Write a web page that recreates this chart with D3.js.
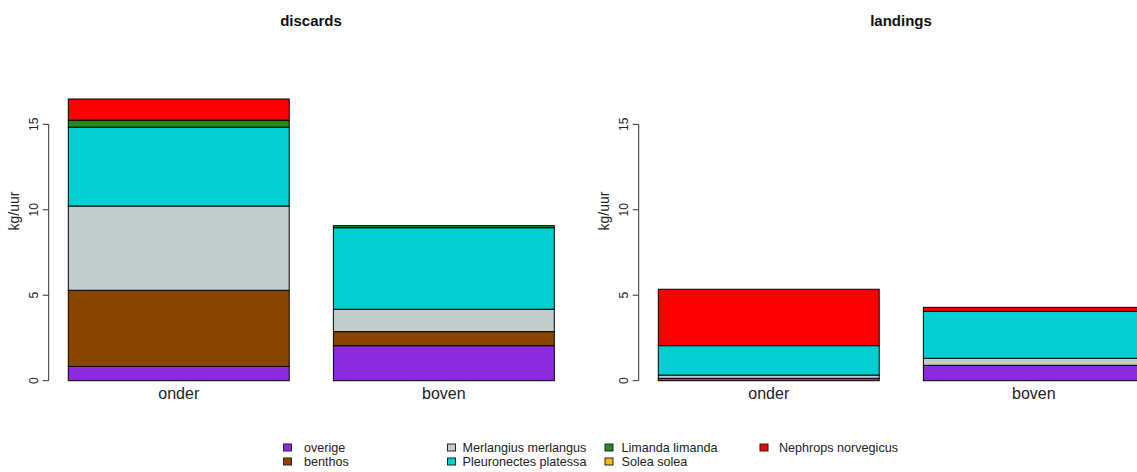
<!DOCTYPE html>
<html>
<head>
<meta charset="utf-8">
<script src="https://cdn.jsdelivr.net/npm/d3@7/dist/d3.min.js"></script>
<style>
  html, body { margin: 0; padding: 0; background: #fff; }
  svg { display: block; font-family: "Liberation Sans", Arial, sans-serif; }
</style>
</head>
<body>
<svg id="chart" width="1137" height="472"></svg>
<script>
// Catch per hour by trawl position (onder / boven), stacked by species group
const categories = ["onder", "boven"];
const species = ["overige", "benthos", "Merlangius merlangus", "Pleuronectes platessa",
                 "Limanda limanda", "Solea solea", "Nephrops norvegicus"];
const speciesColors = ["#8A2BE2", "#8B4500", "#C1CDCD", "#00CED1", "#228B22", "#FFB90F", "#FF0000"];

// discards, kg/uur, one value per category
const discOverige    = [0.84, 2.05];
const discBenthos    = [4.45, 0.82];
const discMerlangius = [4.93, 1.31];
const discPlatessa   = [4.61, 4.77];
const discLimanda    = [0.41, 0.12];
const discSolea      = [0.00, 0.00];
const discNephrops   = [1.24, 0.00];

// landings, kg/uur
const landOverige    = [0.14, 0.90];
const landBenthos    = [0.00, 0.00];
const landMerlangius = [0.19, 0.41];
const landPlatessa   = [1.72, 2.75];
const landLimanda    = [0.00, 0.00];
const landSolea      = [0.00, 0.00];
const landNephrops   = [3.30, 0.23];

const yTicks = [0, 5, 10, 15];

function toRows(series) {
  return categories.map((c, i) => {
    const row = { cat: c };
    species.forEach((s, k) => { row[s] = series[k][i]; });
    return row;
  });
}

const panels = [
  { title: "discards", offset: 0,
    rows: toRows([discOverige, discBenthos, discMerlangius, discPlatessa, discLimanda, discSolea, discNephrops]) },
  { title: "landings", offset: 590,
    rows: toRows([landOverige, landBenthos, landMerlangius, landPlatessa, landLimanda, landSolea, landNephrops]) }
];

const svg = d3.select("#chart");
const color = d3.scaleOrdinal().domain(species).range(speciesColors);
const y = d3.scaleLinear().domain([0, 15]).range([380.7, 124.3]);

panels.forEach(p => {
  const g = svg.append("g").attr("transform", `translate(${p.offset},0)`);
  const x = d3.scaleBand().domain(categories).range([68.3, 554.3])
    .paddingInner(1 / 6).paddingOuter(0);

  const stacked = d3.stack().keys(species)(p.rows);

  g.append("g").selectAll("g")
    .data(stacked)
    .join("g")
      .attr("fill", d => color(d.key))
    .selectAll("rect")
    .data(d => d.filter(s => s[1] - s[0] > 0))
    .join("rect")
      .attr("x", d => x(d.data.cat))
      .attr("width", x.bandwidth())
      .attr("y", d => y(d[1]))
      .attr("height", d => y(d[0]) - y(d[1]))
      .attr("stroke", "#000")
      .attr("stroke-width", 1);

  // y axis, R style: line spans first to last tick, labels parallel to the axis
  const ax = g.append("g").attr("transform", "translate(48.7,0)");
  ax.append("line")
    .attr("x1", 0).attr("x2", 0)
    .attr("y1", y(yTicks[0])).attr("y2", y(yTicks[yTicks.length - 1]))
    .attr("stroke", "#333").attr("stroke-width", 1);
  ax.selectAll("line.tick")
    .data(yTicks)
    .join("line")
      .attr("class", "tick")
      .attr("x1", -6).attr("x2", 0)
      .attr("y1", d => y(d)).attr("y2", d => y(d))
      .attr("stroke", "#333").attr("stroke-width", 1);
  ax.selectAll("text")
    .data(yTicks)
    .join("text")
      .attr("transform", d => `translate(-10.5,${y(d)}) rotate(-90)`)
      .attr("text-anchor", "middle")
      .attr("font-size", 12)
      .attr("fill", "#222")
      .text(d => d);

  g.append("text")
    .attr("transform", "translate(19,211) rotate(-90)")
    .attr("text-anchor", "middle")
    .attr("font-size", 14)
    .attr("fill", "#222")
    .text("kg/uur");

  // category labels
  g.selectAll("text.cat")
    .data(categories)
    .join("text")
      .attr("class", "cat")
      .attr("x", d => x(d) + x.bandwidth() / 2)
      .attr("y", 398.5)
      .attr("text-anchor", "middle")
      .attr("font-size", 16)
      .attr("fill", "#222")
      .text(d => d);

  g.append("text")
    .attr("x", 311)
    .attr("y", 26)
    .attr("text-anchor", "middle")
    .attr("font-size", 15)
    .attr("font-weight", "bold")
    .attr("fill", "#111")
    .text(p.title);
});

// legend: 4 columns x 2 rows, filled column by column
const legendBoxX = [283.5, 447.5, 605, 760];
const legendTextX = [304, 462.5, 621.5, 779];
const legendRowY = [447.5, 461.5];
const legend = svg.append("g");
species.forEach((s, i) => {
  const col = Math.floor(i / 2), row = i % 2;
  legend.append("rect")
    .attr("x", legendBoxX[col])
    .attr("y", legendRowY[row] - 3.5)
    .attr("width", 8).attr("height", 7)
    .attr("fill", color(s))
    .attr("stroke", "#222").attr("stroke-width", 1);
  legend.append("text")
    .attr("x", legendTextX[col])
    .attr("y", legendRowY[row] + 4.5)
    .attr("font-size", 12.6)
    .attr("fill", "#222")
    .text(s);
});
</script>
</body>
</html>
